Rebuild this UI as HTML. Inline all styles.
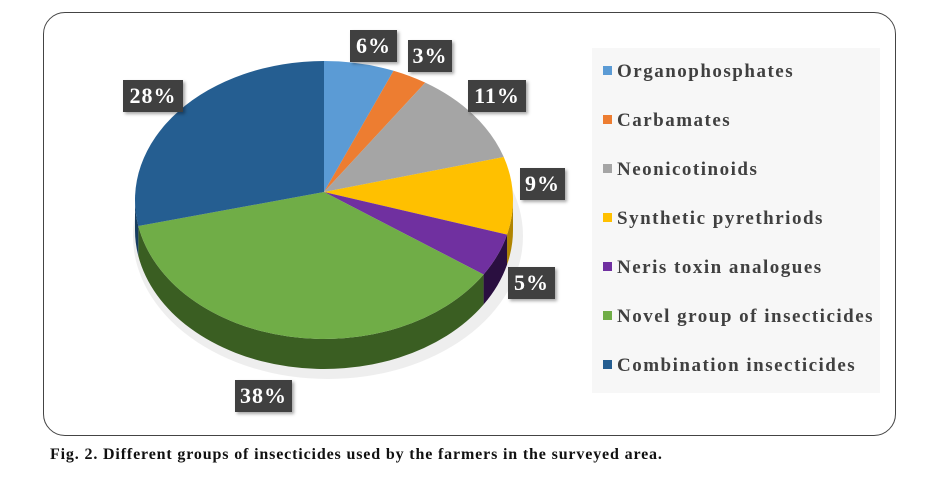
<!DOCTYPE html>
<html><head><meta charset="utf-8"><style>
body{margin:0;background:#fff;width:925px;height:489px;overflow:hidden;font-family:"Liberation Serif",serif;}
.frame{position:absolute;left:43px;top:12px;width:853px;height:424px;border:1px solid #444;border-radius:22px;box-sizing:border-box;}
.leg{position:absolute;left:592px;top:48px;width:288px;height:345px;background:#f7f7f7;}
.it{position:absolute;left:11px;font-weight:bold;font-size:19px;letter-spacing:1.5px;color:#404040;white-space:nowrap;}
.it i{display:inline-block;width:9px;height:9px;margin-right:5px;vertical-align:2px;}
.lb{position:absolute;background:#404040;color:#fff;font-weight:bold;font-size:22px;letter-spacing:1px;line-height:32px;text-align:center;box-shadow:2px 2px 3px rgba(0,0,0,.35);}
.cap{position:absolute;left:50px;top:446px;font-weight:bold;font-size:16px;letter-spacing:0.85px;color:#111;}
</style></head><body>
<div class="frame"></div>
<svg id="s" width="925" height="489" style="position:absolute;left:0;top:0"></svg>
<div class="leg">
<div class="it" style="top:13px"><i style="background:#5b9bd5"></i>Organophosphates</div>
<div class="it" style="top:62px"><i style="background:#ed7d31"></i>Carbamates</div>
<div class="it" style="top:111px"><i style="background:#a5a5a5"></i>Neonicotinoids</div>
<div class="it" style="top:160px"><i style="background:#ffc000"></i>Synthetic pyrethriods</div>
<div class="it" style="top:209px"><i style="background:#7030a0"></i>Neris toxin analogues</div>
<div class="it" style="top:258px"><i style="background:#70ad47"></i>Novel group of insecticides</div>
<div class="it" style="top:307px"><i style="background:#255e91"></i>Combination insecticides</div>
</div>
<div class="lb" style="left:350px;top:30px;width:47px">6%</div>
<div class="lb" style="left:408px;top:40px;width:44px">3%</div>
<div class="lb" style="left:468px;top:80px;width:58px">11%</div>
<div class="lb" style="left:520px;top:168px;width:45px">9%</div>
<div class="lb" style="left:508px;top:267px;width:47px">5%</div>
<div class="lb" style="left:235px;top:380px;width:57px">38%</div>
<div class="lb" style="left:123px;top:80px;width:60px">28%</div>
<div class="cap">Fig. 2. Different groups of insecticides used by the farmers in the surveyed area.</div>
<script>
var cx=324,cy=200,rx=189,ry=139,d=30;
var v=[6,3,11,9,5,38,28],c=["#5b9bd5","#ed7d31","#a5a5a5","#ffc000","#7030a0","#70ad47","#255e91"],
sc=["#3d6e99","#a85520","#777","#b08400","#2a0f40","#3a5e22","#173d60"];
function P(a,dy){a=a*Math.PI/180;return [cx+rx*Math.sin(a),cy-ry*Math.cos(a)+(dy||0)];}
var s="",side="",a0=0;
for(var i=0;i<v.length;i++){var a1=a0+v[i]*3.6;
 var lo=Math.max(a0,90),hi=Math.min(a1,270);
 if(hi>lo){var p=P(lo),q=P(hi),q2=P(hi,d),p2=P(lo,d);
  side+='<path d="M'+p+' A'+rx+','+ry+' 0 0 1 '+q+' L'+q2+' A'+rx+','+ry+' 0 0 0 '+p2+'Z" fill="'+sc[i]+'"/>';}
 var p=P(a0),q=P(a1),lg=(a1-a0)>180?1:0;
 s+='<path d="M'+cx+','+(cy-8)+' L'+p+' A'+rx+','+ry+' 0 '+lg+' 1 '+q+'Z" fill="'+c[i]+'"/>';
 a0=a1;}
document.getElementById("s").innerHTML='<ellipse cx="'+(cx+4)+'" cy="'+(cy+d+6)+'" rx="'+(rx+6)+'" ry="'+(ry+4)+'" fill="#ddd" opacity=".5"/>'+side+s;
</script>
</body></html>
